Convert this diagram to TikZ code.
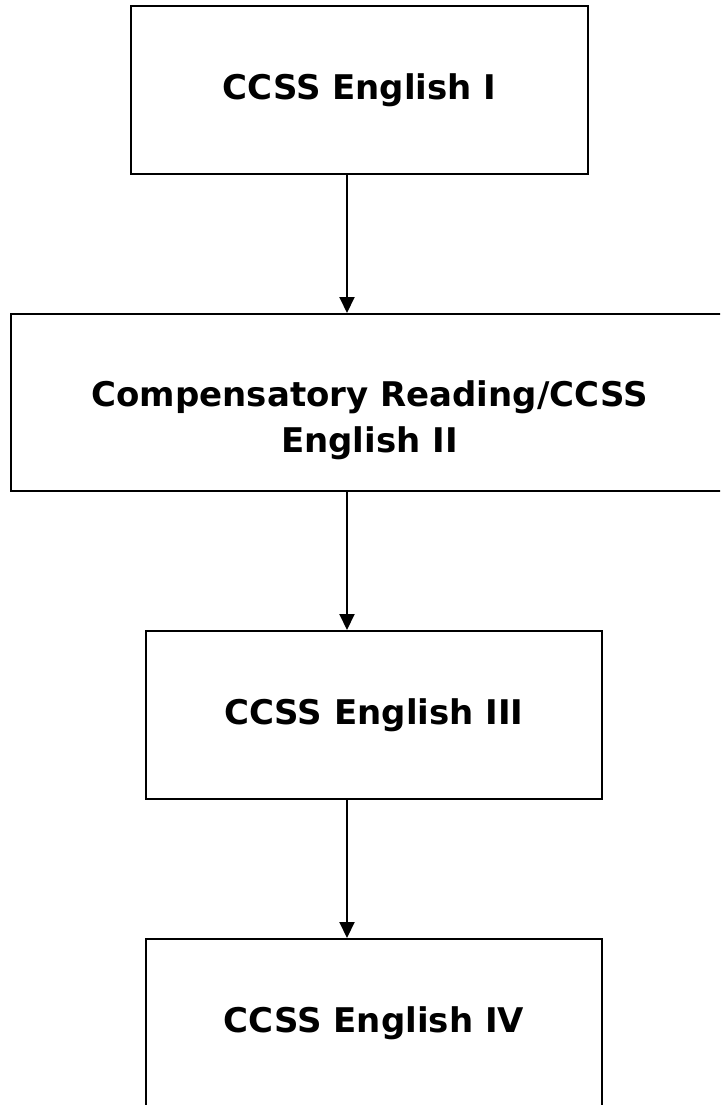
\documentclass[tikz,border=0pt]{standalone}
\usepackage{fontspec}
\setmainfont{DejaVu Sans}
\usetikzlibrary{arrows.meta}
\begin{document}
\begin{tikzpicture}[x=1pt,y=-1pt,
  box/.style={draw=black,line width=2pt,fill=white,rectangle,inner sep=0pt},
  lbl/.style={inner sep=0pt,font=\fontsize{34}{46}\selectfont\bfseries,align=center},
  conn/.style={line width=2pt,-{Triangle[length=16pt,width=15pt]}}]
\useasboundingbox (0,0) rectangle (720,1105);
\clip (0,0) rectangle (720,1105);
\fill[white] (0,0) rectangle (720,1105);
\coordinate (ax) at (347,0);
\node[box,minimum width=457pt,minimum height=168pt] (b1) at (359.5,90) {};
\node[lbl] (t1) at (b1.center) {CCSS English I};
\node[box,minimum width=717pt,minimum height=177pt] (b2) at (369.5,402.5) {};
\node[lbl] (t2) at ([yshift=-18pt]b2.center) {Compensatory Reading/CCSS\\English II};
\node[box,minimum width=456pt,minimum height=168pt] (b3) at (374,715) {};
\node[lbl] (t3) at (b3.center) {CCSS English III};
\node[box,minimum width=456pt,minimum height=168pt] (b4) at (374,1023) {};
\node[lbl] (t4) at (b4.center) {CCSS English IV};
\draw[conn] (b1.south -| ax) -- (b2.north -| ax);
\draw[conn] (b2.south -| ax) -- (b3.north -| ax);
\draw[conn] (b3.south -| ax) -- (b4.north -| ax);
\end{tikzpicture}
\end{document}
